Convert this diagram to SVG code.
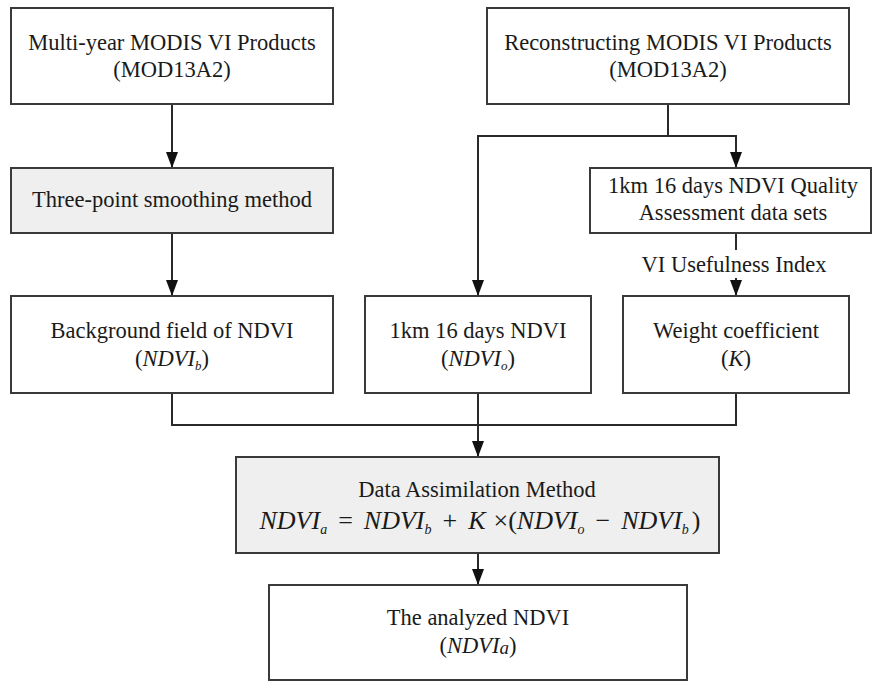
<svg xmlns="http://www.w3.org/2000/svg" width="872" height="681" viewBox="0 0 872 681">
<defs>
<marker id="arr" markerUnits="userSpaceOnUse" markerWidth="16" markerHeight="12" viewBox="0 0 16 12" refX="16" refY="6" orient="auto">
<path d="M0,0 L16,6 L0,12 z" fill="#111"/>
</marker>
<style>
.box{fill:#ffffff;stroke:#3a3a3a;stroke-width:2}
.gray{fill:#eeefee}
.t{font-size:22.5px;fill:#1a1a1a;text-anchor:middle}
.i{font-style:italic}
.sub{font-size:13px;font-style:italic}
.f{font-size:26px;fill:#1a1a1a;text-anchor:middle;font-style:italic}
.fs{font-size:14px}
.n{font-style:normal}
.c{fill:none;stroke:#2a2a2a;stroke-width:2}
</style>
</defs>
<rect width="872" height="681" fill="#ffffff"/>

<g font-family="'Liberation Serif', 'DejaVu Serif', serif">
<g id="connectors">
<path class="c" d="M172,104 V168" marker-end="url(#arr)"/>
<path class="c" d="M172,233 V296" marker-end="url(#arr)"/>
<path class="c" d="M668,104 V136 H736 V168" marker-end="url(#arr)"/>
<path class="c" d="M668,136 H478 V296" marker-end="url(#arr)"/>
<path class="c" d="M736,233 V250"/>
<path class="c" d="M736,278 V296" marker-end="url(#arr)"/>
<path class="c" d="M172,393 V425 H478"/>
<path class="c" d="M736,393 V425 H478"/>
<path class="c" d="M478,393 V457" marker-end="url(#arr)"/>
<path class="c" d="M478,553 V585" marker-end="url(#arr)"/>
<text class="t" x="734" y="272">VI Usefulness Index</text>
</g>

<g id="multi-year">
<rect class="box" x="11" y="8" width="322" height="96"/>
<text class="t" x="172" y="50">Multi-year MODIS VI Products</text>
<text class="t" x="172" y="77">(MOD13A2)</text>
</g>

<g id="reconstructing">
<rect class="box" x="487" y="8" width="362" height="96"/>
<text class="t" x="668" y="50">Reconstructing MODIS VI Products</text>
<text class="t" x="668" y="77">(MOD13A2)</text>
</g>

<g id="smoothing">
<rect class="box gray" x="11" y="168" width="322" height="65"/>
<text class="t" x="172" y="207">Three-point smoothing method</text>
</g>

<g id="qa">
<rect class="box" x="590" y="168" width="281" height="65"/>
<text class="t" x="733" y="193">1km 16 days NDVI Quality</text>
<text class="t" x="733" y="220">Assessment data sets</text>
</g>

<g id="background">
<rect class="box" x="11" y="296" width="322" height="97"/>
<text class="t" x="172" y="338">Background field of NDVI</text>
<text class="t" x="172" y="366">(<tspan class="i">NDVI</tspan><tspan class="sub" dy="4">b</tspan><tspan dy="-4">)</tspan></text>
</g>

<g id="ndvi-o">
<rect class="box" x="365" y="296" width="226" height="97"/>
<text class="t" x="478" y="338">1km 16 days NDVI</text>
<text class="t" x="478" y="366">(<tspan class="i">NDVI</tspan><tspan class="sub" dy="4">o</tspan><tspan dy="-4">)</tspan></text>
</g>

<g id="weight">
<rect class="box" x="623" y="296" width="226" height="97"/>
<text class="t" x="736" y="338">Weight coefficient</text>
<text class="t" x="736" y="366">(<tspan class="i">K</tspan>)</text>
</g>

<g id="assimilation">
<rect class="box gray" x="236" y="457" width="483" height="96"/>
<text class="t" x="477" y="497">Data Assimilation Method</text>
<text class="f" x="480" y="529">NDVI<tspan class="fs" dy="5">a</tspan><tspan class="n" dy="-5" dx="11">=</tspan><tspan dx="11">NDVI</tspan><tspan class="fs" dy="5">b</tspan><tspan class="n" dy="-5" dx="11">+</tspan><tspan dx="11">K</tspan><tspan class="n" dx="8">×(</tspan>NDVI<tspan class="fs" dy="5">o</tspan><tspan class="n" dy="-5" dx="11">−</tspan><tspan dx="11">NDVI</tspan><tspan class="fs" dy="5">b</tspan><tspan class="n" dy="-5" dx="3">)</tspan></text>
</g>

<g id="analyzed">
<rect class="box" x="269" y="585" width="418" height="95"/>
<text class="t" x="478" y="625">The analyzed NDVI</text>
<text class="t" x="478" y="653">(<tspan class="i">NDVI</tspan><tspan class="i" font-size="19px" dy="1">a</tspan><tspan dy="-1">)</tspan></text>
</g>
</g>
</svg>
